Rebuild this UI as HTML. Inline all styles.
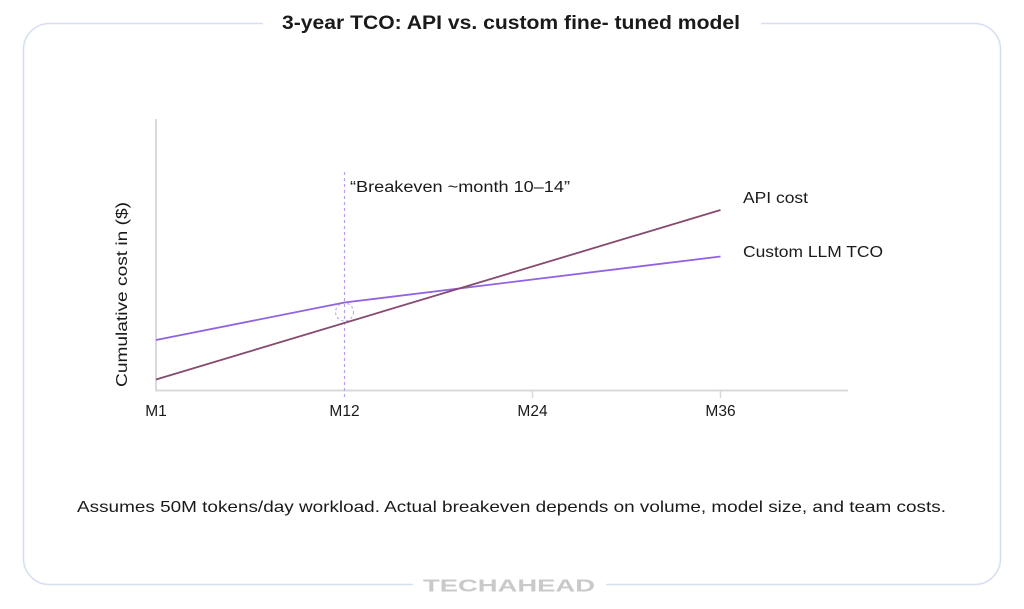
<!DOCTYPE html>
<html>
<head>
<meta charset="utf-8">
<style>
  html,body{margin:0;padding:0;background:#fff;}
  body{width:1024px;height:609px;overflow:hidden;}
  svg{display:block;}
  text{font-family:"Liberation Sans", sans-serif;}
</style>
</head>
<body>
<svg width="1024" height="609" viewBox="0 0 1024 609" xmlns="http://www.w3.org/2000/svg">
  <rect x="0" y="0" width="1024" height="609" fill="#ffffff"/>
  <!-- outer frame -->
  <rect x="23.5" y="23.5" width="977" height="561" rx="26" ry="26" fill="none" stroke="#d6dff0" stroke-width="1.6"/>
  <!-- gaps -->
  <rect x="263" y="15" width="498" height="16" fill="#ffffff"/>
  <rect x="413" y="576" width="193" height="16" fill="#ffffff"/>

  <!-- title -->
  <text x="282" y="29" font-size="19" font-weight="bold" fill="#1a1a1a" textLength="458" lengthAdjust="spacingAndGlyphs">3-year TCO:  API vs. custom fine- tuned model</text>

  <!-- axes -->
  <line x1="156" y1="119" x2="156" y2="391" stroke="#d9d9d9" stroke-width="2"/>
  <line x1="155" y1="390.5" x2="848" y2="390.5" stroke="#d9d9d9" stroke-width="2"/>
  <line x1="532.5" y1="390" x2="532.5" y2="398" stroke="#d9d9d9" stroke-width="1.5"/>
  <line x1="720.5" y1="390" x2="720.5" y2="398" stroke="#d9d9d9" stroke-width="1.5"/>

  <!-- breakeven dashed -->
  <line x1="344.5" y1="172" x2="344.5" y2="398" stroke="#b99bf0" stroke-width="1.2" stroke-dasharray="3,3"/>
  <circle cx="344.5" cy="312" r="9" fill="none" stroke="#c0a6f2" stroke-width="1.1" stroke-dasharray="2.5,2.5"/>

  <!-- series -->
  <polyline points="156,340 344.5,302.5 720.5,256.5" fill="none" stroke="#9163e3" stroke-width="1.8"/>
  <line x1="156" y1="379.5" x2="720.5" y2="210" stroke="#874a6f" stroke-width="1.8"/>

  <!-- annotation -->
  <text x="350" y="192" font-size="15.5" fill="#1a1a1a" textLength="220" lengthAdjust="spacingAndGlyphs">“Breakeven ~month 10–14”</text>
  <text x="743" y="203" font-size="15.5" fill="#1a1a1a" textLength="65" lengthAdjust="spacingAndGlyphs">API cost</text>
  <text x="743" y="257" font-size="15.5" fill="#1a1a1a" textLength="140" lengthAdjust="spacingAndGlyphs">Custom LLM TCO</text>

  <!-- y label -->
  <text transform="translate(127,294.5) rotate(-90)" text-anchor="middle" font-size="15.5" fill="#1a1a1a" textLength="185" lengthAdjust="spacingAndGlyphs">Cumulative cost in ($)</text>

  <!-- tick labels -->
  <text x="156" y="416" text-anchor="middle" font-size="15.5" fill="#1a1a1a">M1</text>
  <text x="344.5" y="416" text-anchor="middle" font-size="15.5" fill="#1a1a1a">M12</text>
  <text x="532.5" y="416" text-anchor="middle" font-size="15.5" fill="#1a1a1a">M24</text>
  <text x="720.5" y="416" text-anchor="middle" font-size="15.5" fill="#1a1a1a">M36</text>

  <!-- footnote -->
  <text x="77" y="512" font-size="16" fill="#1a1a1a" textLength="869" lengthAdjust="spacingAndGlyphs">Assumes 50M tokens/day workload. Actual breakeven depends on volume, model size, and team costs.</text>

  <!-- brand -->
  <text x="423" y="591.5" font-size="17.5" font-weight="bold" fill="#c9c9c9" textLength="172" lengthAdjust="spacingAndGlyphs">TECHAHEAD</text>
</svg>
</body>
</html>
